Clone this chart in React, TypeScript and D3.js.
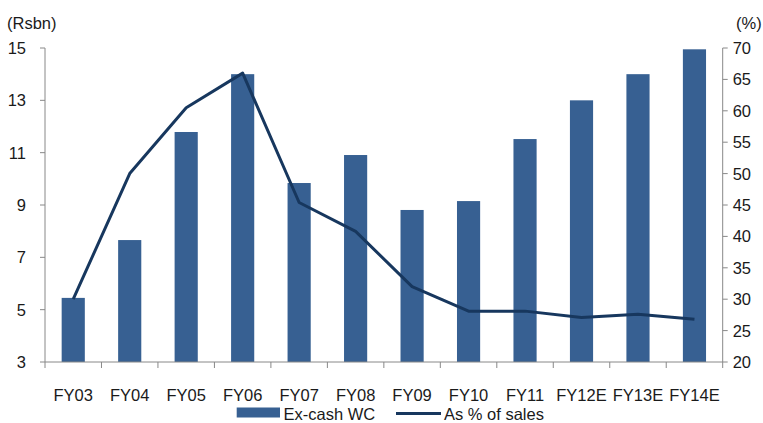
import React from "react";
import * as d3 from "d3";

// Fiscal years on the category axis
const categories = ["FY03", "FY04", "FY05", "FY06", "FY07", "FY08", "FY09", "FY10", "FY11", "FY12E", "FY13E", "FY14E"];
// Ex-cash working capital (Rs bn), left axis
const exCashWC = [5.45, 7.66, 11.79, 14.0, 9.84, 10.91, 8.81, 9.15, 11.52, 13.0, 14.0, 14.95];
// Ex-cash working capital as % of sales, right axis
const pctOfSales = [30, 50, 60.5, 66, 45.4, 40.8, 32, 28.1, 28.1, 27.1, 27.6, 26.8];
const leftTicks = [3, 5, 7, 9, 11, 13, 15];
const rightTicks = [20, 25, 30, 35, 40, 45, 50, 55, 60, 65, 70];

const W = 763;
const H = 423;
const plot = { left: 45, right: 722.7, top: 48, bottom: 362 };
const BAR = "#376092";
const LINE = "#17375E";
const AXIS = "#888888";
const FONT = "'Liberation Sans', Arial, sans-serif";
const FS = 16.5;

function Label({ x, y, anchor = "start", children }: { x: number; y: number; anchor?: string; children: React.ReactNode }) {
  return (
    <text x={x} y={y} textAnchor={anchor as any} fontFamily={FONT} fontSize={FS} fill="#1a1a1a">
      {children}
    </text>
  );
}

export default function App() {
  const x = d3.scaleBand<string>().domain(categories).range([plot.left, plot.right]).padding(0);
  const yL = d3.scaleLinear().domain([3, 15]).range([plot.bottom, plot.top]);
  const yR = d3.scaleLinear().domain([20, 70]).range([plot.bottom, plot.top]);
  const bw = x.bandwidth() * 0.41;
  const cx = (c: string) => (x(c) as number) + x.bandwidth() / 2;

  const line = d3
    .line<number>()
    .x((_, i) => cx(categories[i]))
    .y((d) => yR(d));

  const boundaries = categories.map((c) => x(c) as number).concat([plot.right]);

  return (
    <svg
      width={W}
      height={H}
      style={{ position: "absolute", left: 0, top: 0, background: "#fff" }}
    >
      {/* bars */}
      {exCashWC.map((v, i) => (
        <rect
          key={categories[i]}
          x={cx(categories[i]) - bw / 2}
          y={yL(v)}
          width={bw}
          height={yL(3) - yL(v)}
          fill={BAR}
        />
      ))}

      {/* % of sales line */}
      <path d={line(pctOfSales) || ""} fill="none" stroke={LINE} strokeWidth={3} strokeLinejoin="round" />

      {/* left axis */}
      <line x1={plot.left} x2={plot.left} y1={plot.top} y2={plot.bottom} stroke={AXIS} strokeWidth={1} />
      {leftTicks.map((t) => (
        <g key={"l" + t}>
          <line x1={plot.left - 5} x2={plot.left} y1={yL(t)} y2={yL(t)} stroke={AXIS} />
          <Label x={plot.left - 19} y={yL(t) + 6} anchor="end">{t}</Label>
        </g>
      ))}

      {/* right axis */}
      <line x1={plot.right} x2={plot.right} y1={plot.top} y2={plot.bottom} stroke={AXIS} strokeWidth={1} />
      {rightTicks.map((t) => (
        <g key={"r" + t}>
          <line x1={plot.right} x2={plot.right + 5} y1={yR(t)} y2={yR(t)} stroke={AXIS} />
          <Label x={plot.right + 10} y={yR(t) + 6}>{t}</Label>
        </g>
      ))}

      {/* category axis */}
      <line x1={plot.left} x2={plot.right} y1={plot.bottom} y2={plot.bottom} stroke={AXIS} />
      {boundaries.map((b, i) => (
        <line key={"b" + i} x1={b} x2={b} y1={plot.bottom} y2={plot.bottom + 6} stroke={AXIS} />
      ))}
      {categories.map((c) => (
        <Label key={"c" + c} x={cx(c)} y={400.5} anchor="middle">{c}</Label>
      ))}

      {/* axis units */}
      <Label x={7} y={29}>(Rsbn)</Label>
      <Label x={736} y={29}>(%)</Label>

      {/* legend */}
      <rect x={236.7} y={407.5} width={43.3} height={10} fill={BAR} />
      <Label x={283.5} y={419.5}>Ex-cash WC</Label>
      <line x1={396} x2={441} y1={413.5} y2={413.5} stroke={LINE} strokeWidth={3} />
      <Label x={444} y={419.5}>As % of sales</Label>
    </svg>
  );
}
